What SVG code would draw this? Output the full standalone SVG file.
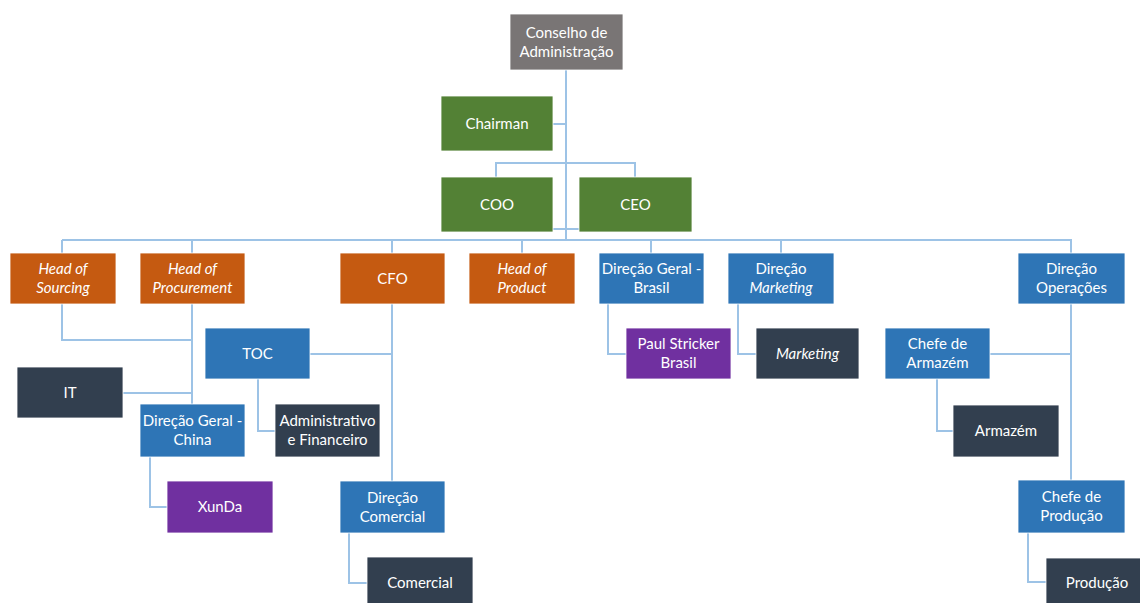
<svg xmlns="http://www.w3.org/2000/svg" width="1140" height="603" viewBox="0 0 1140 603">
<style>
.n{stroke:#ffffff;stroke-width:0.8}
.g{fill:#797575}.gr{fill:#538135}.o{fill:#C55A11}.b{fill:#2E75B6}.d{fill:#323F4F}.p{fill:#7030A0}
text{font-family:Lato,"Open Sans","Liberation Sans",sans-serif;font-size:15px;fill:#ffffff;text-anchor:middle}
.i{font-style:italic}
#connectors path{fill:none;stroke:#9DC3E6;stroke-width:2}
</style>
<rect width="1140" height="603" fill="#ffffff"/>
<g id="connectors">
<path d="M566 70V240M553 124H566M496 177V163H635V177M553 229H580M62 240H1072"/>
<path d="M62 240V253M192 240V253M392 240V253M522 240V253M651 240V253M781 240V253M1071 240V253"/>
<path d="M62 304V340H192M192 304V404M123 393H192"/>
<path d="M392 304V481M310 354H392M258 379V431H275M150 457V507H167M349 533V583H367"/>
<path d="M608 304V354H626M738 304V354H756"/>
<path d="M1071 304V480M990 354H1071M937 379V431H953M1028 533V582H1046"/>
</g>
<g id="conselho"><rect class="n g" x="510" y="14" width="113" height="56"/><text x="566.5" y="37.5">Conselho de</text><text x="566.5" y="56.5">Administração</text></g>
<g id="chairman"><rect class="n gr" x="441" y="96" width="112" height="55"/><text x="497" y="128.5">Chairman</text></g>
<g id="coo"><rect class="n gr" x="441" y="177" width="112" height="55"/><text x="497" y="209.5">COO</text></g>
<g id="ceo"><rect class="n gr" x="579" y="177" width="113" height="55"/><text x="635.5" y="209.5">CEO</text></g>
<g id="head-sourcing"><rect class="n o" x="10" y="253" width="106" height="51"/><text class="i" x="63" y="274">Head of</text><text class="i" x="63" y="293">Sourcing</text></g>
<g id="head-procurement"><rect class="n o" x="140" y="253" width="105" height="51"/><text class="i" x="192.5" y="274">Head of</text><text class="i" x="192.5" y="293">Procurement</text></g>
<g id="cfo"><rect class="n o" x="340" y="253" width="105" height="51"/><text x="392.5" y="283.5">CFO</text></g>
<g id="head-product"><rect class="n o" x="469" y="253" width="106" height="51"/><text class="i" x="522" y="274">Head of</text><text class="i" x="522" y="293">Product</text></g>
<g id="dir-brasil"><rect class="n b" x="599" y="253" width="105" height="51"/><text x="651.5" y="274">Direção Geral -</text><text x="651.5" y="293">Brasil</text></g>
<g id="dir-marketing"><rect class="n b" x="728" y="253" width="106" height="51"/><text x="781" y="274">Direção</text><text class="i" x="781" y="293">Marketing</text></g>
<g id="dir-operacoes"><rect class="n b" x="1018" y="253" width="107" height="51"/><text x="1071.5" y="274">Direção</text><text x="1071.5" y="293">Operações</text></g>
<g id="toc"><rect class="n b" x="205" y="328" width="105" height="51"/><text x="257.5" y="358.5">TOC</text></g>
<g id="it"><rect class="n d" x="17" y="367" width="106" height="51"/><text x="70" y="397.5">IT</text></g>
<g id="dir-china"><rect class="n b" x="140" y="404" width="105" height="53"/><text x="192.5" y="426">Direção Geral -</text><text x="192.5" y="445">China</text></g>
<g id="adm-fin"><rect class="n d" x="275" y="404" width="105" height="53"/><text x="327.5" y="426">Administrativo</text><text x="327.5" y="445">e Financeiro</text></g>
<g id="xunda"><rect class="n p" x="167" y="481" width="106" height="52"/><text x="220" y="511.5">XunDa</text></g>
<g id="dir-comercial"><rect class="n b" x="340" y="481" width="105" height="52"/><text x="392.5" y="502.5">Direção</text><text x="392.5" y="521.5">Comercial</text></g>
<g id="comercial"><rect class="n d" x="367" y="557" width="106" height="52"/><text x="420" y="588">Comercial</text></g>
<g id="paul-stricker"><rect class="n p" x="626" y="328" width="105" height="51"/><text x="678.5" y="349">Paul Stricker</text><text x="678.5" y="368">Brasil</text></g>
<g id="marketing"><rect class="n d" x="756" y="328" width="103" height="51"/><text class="i" x="807.5" y="358.5">Marketing</text></g>
<g id="chefe-armazem"><rect class="n b" x="885" y="328" width="105" height="51"/><text x="937.5" y="349">Chefe de</text><text x="937.5" y="368">Armazém</text></g>
<g id="armazem"><rect class="n d" x="953" y="405" width="106" height="52"/><text x="1006" y="435.5">Armazém</text></g>
<g id="chefe-producao"><rect class="n b" x="1018" y="480" width="107" height="53"/><text x="1071.5" y="502">Chefe de</text><text x="1071.5" y="521">Produção</text></g>
<g id="producao"><rect class="n d" x="1046" y="558" width="106" height="52"/><text x="1097" y="588">Produção</text></g>
</svg>
